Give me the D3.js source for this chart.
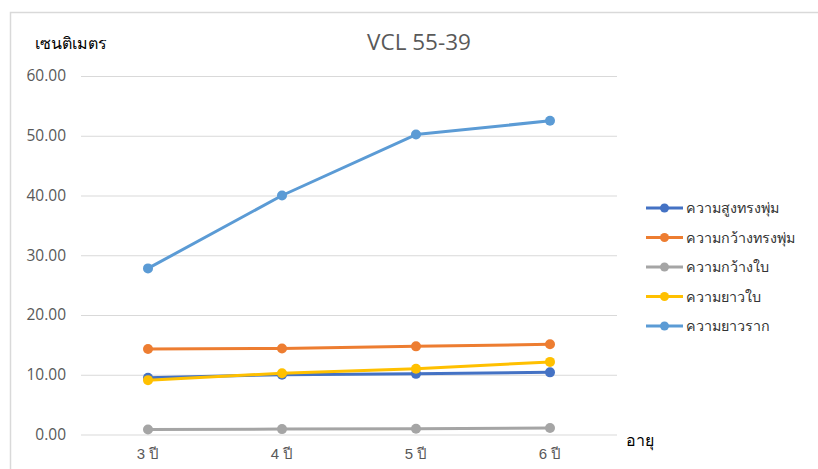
<!DOCTYPE html>
<html>
<head>
<meta charset="utf-8">
<script src="https://cdn.jsdelivr.net/npm/d3@7"></script>
<style>
  html, body { margin: 0; padding: 0; background: #fff; }
  svg { display: block; font-family: "Noto Sans", "DejaVu Sans", sans-serif; }
</style>
</head>
<body>
<svg id="chart" width="818" height="469"></svg>
<script>
// Age categories (x axis)
const categories = ["3 ปี", "4 ปี", "5 ปี", "6 ปี"];

// Measurements in centimetres per age
const shrubHeight = [9.5, 10.0, 10.15, 10.4];   // ความสูงทรงพุ่ม
const shrubWidth  = [14.3, 14.4, 14.75, 15.1];  // ความกว้างทรงพุ่ม
const leafWidth   = [0.85, 0.9, 0.95, 1.1];     // ความกว้างใบ
const leafLength  = [9.1, 10.25, 11.0, 12.15];  // ความยาวใบ
const rootLength  = [27.8, 40.0, 50.2, 52.5];   // ความยาวราก

const seriesNames  = ["ความสูงทรงพุ่ม", "ความกว้างทรงพุ่ม", "ความกว้างใบ", "ความยาวใบ", "ความยาวราก"];
const seriesColors = ["#4472c4", "#ed7d31", "#a5a5a5", "#ffc000", "#5b9bd5"];
const yTicks = [0, 10, 20, 30, 40, 50, 60];

const series = [shrubHeight, shrubWidth, leafWidth, leafLength, rootLength].map((values, i) => ({
  name: seriesNames[i], color: seriesColors[i], values
}));

const svg = d3.select("#chart");

// Outer chart frame
svg.append("rect")
  .attr("x", 10.5).attr("y", 12.5)
  .attr("width", 900).attr("height", 600)
  .attr("fill", "none").attr("stroke", "#d9d9d9").attr("stroke-width", 1.5);

const plot = { left: 81, right: 617, top: 76, bottom: 434.5 };

const x = d3.scaleBand().domain(categories).range([plot.left, plot.right]);
const y = d3.scaleLinear().domain([0, 60]).range([plot.bottom, plot.top]);

// Horizontal gridlines
const yAxis = d3.axisLeft(y).tickValues(yTicks).tickSize(-(plot.right - plot.left)).tickPadding(15)
  .tickFormat(d3.format(".2f"));
const gy = svg.append("g").attr("transform", `translate(${plot.left},0)`).call(yAxis);
gy.select(".domain").remove();
gy.selectAll(".tick line").attr("stroke", "#d9d9d9").attr("stroke-width", 1);
gy.selectAll(".tick text").attr("fill", "#595959").attr("font-size", 15.5)
  .attr("font-family", "'Open Sans', 'Noto Sans', sans-serif");

// Category axis
const xAxis = d3.axisBottom(x).tickSize(0).tickPadding(14);
const gx = svg.append("g").attr("transform", `translate(0,${plot.bottom})`).call(xAxis);
gx.select(".domain").remove();
gx.selectAll(".tick text").attr("fill", "#595959").attr("font-size", 15);

// Series lines and markers
const line = d3.line()
  .x((d, i) => x(categories[i]) + x.bandwidth() / 2)
  .y(d => y(d));

series.forEach(s => {
  const g = svg.append("g");
  g.append("path").datum(s.values)
    .attr("d", line).attr("fill", "none")
    .attr("stroke", s.color).attr("stroke-width", 3)
    .attr("stroke-linejoin", "round").attr("stroke-linecap", "round");
  g.selectAll("circle").data(s.values).join("circle")
    .attr("cx", (d, i) => x(categories[i]) + x.bandwidth() / 2)
    .attr("cy", d => y(d))
    .attr("r", 5)
    .attr("fill", s.color);
});

// Title
svg.append("text")
  .attr("x", 419).attr("y", 50)
  .attr("text-anchor", "middle")
  .attr("fill", "#595959").attr("font-size", 22.5)
  .attr("font-family", "'Open Sans', 'Noto Sans', sans-serif")
  .text("VCL 55-39");

// Axis titles
svg.append("text")
  .attr("x", 35).attr("y", 49)
  .attr("fill", "#000").attr("font-size", 16)
  .text("เซนติเมตร");

svg.append("text")
  .attr("x", 626).attr("y", 446)
  .attr("fill", "#000").attr("font-size", 16)
  .text("อายุ");

// Legend
const legend = svg.append("g");
series.forEach((s, i) => {
  const ly = 208 + i * 29.5;
  legend.append("line")
    .attr("x1", 646).attr("x2", 683).attr("y1", ly).attr("y2", ly)
    .attr("stroke", s.color).attr("stroke-width", 3);
  legend.append("circle").attr("cx", 664.5).attr("cy", ly).attr("r", 4.5).attr("fill", s.color);
  legend.append("text")
    .attr("x", 686).attr("y", ly + 5)
    .attr("fill", "#333").attr("font-size", 14.3)
    .text(s.name);
});
</script>
</body>
</html>
